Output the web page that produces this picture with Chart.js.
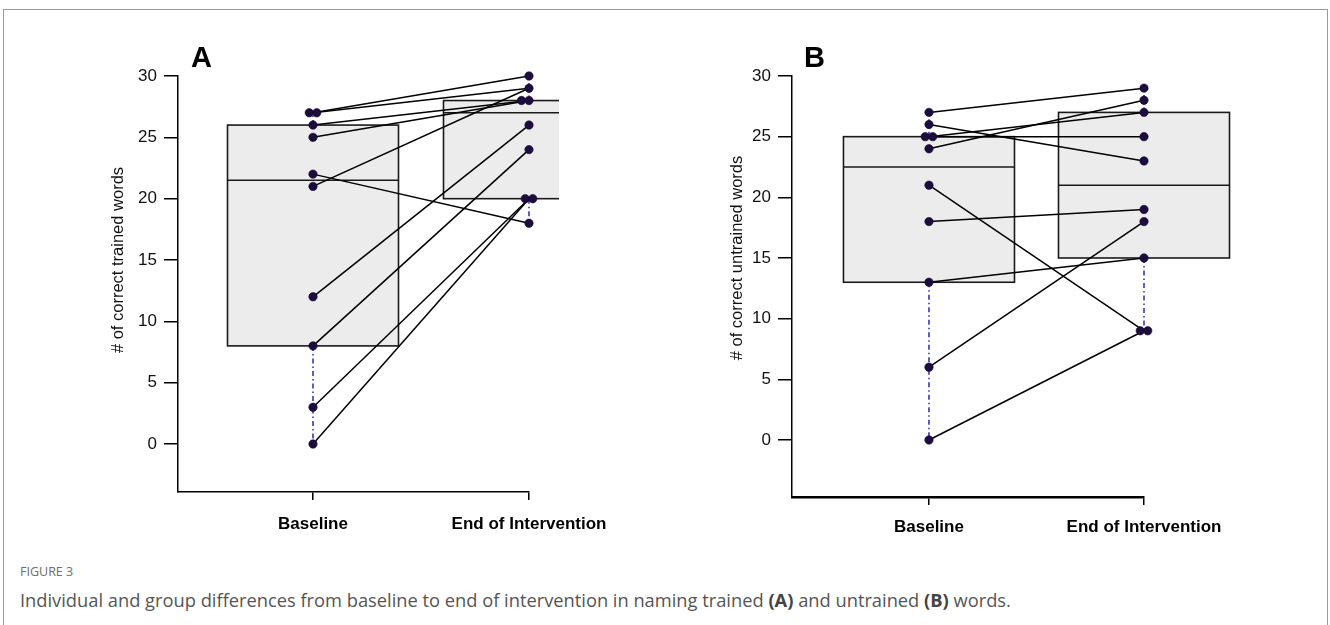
<!DOCTYPE html>
<html><head><meta charset="utf-8">
<script src="https://cdn.jsdelivr.net/npm/chart.js@4.4.1/dist/chart.umd.min.js"></script>
<style>
html,body{margin:0;padding:0;background:#fff;width:1330px;height:625px;overflow:hidden;position:relative;}
#frame{position:absolute;left:3px;top:9px;width:1325px;height:700px;border:1px solid #9a9a9a;box-sizing:border-box;}
.wrap{position:absolute;top:0;width:665px;height:560px;}
#wa{left:0}#wb{left:665px}
#cap1{position:absolute;left:20px;top:563px;font:12.5px "Open Sans",sans-serif;color:#6d6d6d;white-space:nowrap;}
#cap2{position:absolute;left:20px;top:587px;font:18.3px "Open Sans",sans-serif;color:#555;white-space:nowrap;}
#cap2 b{color:#444;}
</style></head>
<body>
<div id="frame"></div>
<div class="wrap" id="wa"><canvas id="ca"></canvas></div>
<div class="wrap" id="wb"><canvas id="cb"></canvas></div>
<div id="cap1">FIGURE 3</div>
<div id="cap2">Individual and group differences from baseline to end of intervention in naming trained <b>(A)</b> and untrained <b>(B)</b> words.</div>
<script>
// ---------- data ----------
const categories = ['Baseline', 'End of Intervention'];
const yTickValues = [0, 5, 10, 15, 20, 25, 30];

// Panel A: trained words
const baseA = [27, 27, 26, 25, 22, 21, 12, 8, 3, 0];
const endA  = [30, 29, 28, 28, 28, 26, 24, 20, 20, 18];
const linkFromA = [27, 27, 26, 25, 22, 21, 12, 8, 3, 0];
const linkToA   = [30, 29, 28, 28, 18, 29, 26, 24, 20, 20];
const boxMinA = [0, 18];
const boxQ1A  = [8, 20];
const boxMedA = [21.5, 27];
const boxQ3A  = [26, 28];
const boxMaxA = [27, 30];

// Panel B: untrained words
const baseB = [27, 26, 25, 25, 24, 21, 18, 13, 6, 0];
const endB  = [29, 28, 27, 25, 23, 19, 18, 15, 9, 9];
const linkFromB = [27, 26, 25, 25, 24, 21, 18, 13, 6, 0];
const linkToB   = [29, 23, 27, 25, 28, 9, 19, 15, 18, 9];
const boxMinB = [0, 9];
const boxQ1B  = [13, 15];
const boxMedB = [22.5, 21];
const boxQ3B  = [25, 27];
const boxMaxB = [27, 29];

// ---------- helpers ----------
function jitter(values, pos, step) {
  const counts = {}, seen = {};
  values.forEach(v => counts[v] = (counts[v] || 0) + 1);
  return values.map(v => {
    const n = counts[v]; const k = seen[v] = (seen[v] === undefined ? 0 : seen[v] + 1);
    return { x: pos + (k - (n - 1) / 2) * step, y: v };
  });
}

const boxPlugin = {
  id: 'boxes',
  beforeDatasetsDraw(chart, args, o) {
    const { ctx, scales: { x, y }, chartArea } = chart;
    ctx.save();
    if (o.clipExtra != null) {
      ctx.beginPath();
      ctx.rect(0, 0, chartArea.right + o.clipExtra, chart.height);
      ctx.clip();
    }
    const half = x.getPixelForValue(1 + o.halfWidth) - x.getPixelForValue(1);
    o.q1.forEach((q1, i) => {
      const cx = x.getPixelForValue(i + 1);
      const top = y.getPixelForValue(o.q3[i]);
      const bot = y.getPixelForValue(q1);
      ctx.fillStyle = '#ececec';
      ctx.fillRect(cx - half, top, 2 * half, bot - top);
      ctx.strokeStyle = '#1a1a1a';
      ctx.lineWidth = 1.6;
      ctx.strokeRect(cx - half, top, 2 * half, bot - top);
      const my = y.getPixelForValue(o.med[i]);
      ctx.beginPath(); ctx.moveTo(cx - half, my); ctx.lineTo(cx + half, my); ctx.stroke();
    });
    ctx.restore();
    ctx.save();
    ctx.strokeStyle = '#1c1caa';
    ctx.lineWidth = 1.4;
    ctx.setLineDash([5, 3, 1.5, 3]);
    o.q1.forEach((q1, i) => {
      const cx = x.getPixelForValue(i + 1);
      ctx.beginPath();
      ctx.moveTo(cx, y.getPixelForValue(q1)); ctx.lineTo(cx, y.getPixelForValue(o.min[i]));
      ctx.moveTo(cx, y.getPixelForValue(o.q3[i])); ctx.lineTo(cx, y.getPixelForValue(o.max[i]));
      ctx.stroke();
    });
    ctx.restore();
  },
  afterDraw(chart, args, o) {
    const { ctx, scales: { y }, chartArea } = chart;
    ctx.save();
    ctx.fillStyle = '#000';
    ctx.font = 'bold 29px "Liberation Sans", Arial, sans-serif';
    ctx.textBaseline = 'alphabetic';
    ctx.fillText(o.letter, chartArea.left + o.letterDx, 67);
    const cy = (y.getPixelForValue(0) + y.getPixelForValue(30)) / 2;
    ctx.translate(chartArea.left - o.titleDx, cy);
    ctx.rotate(-Math.PI / 2);
    ctx.font = '16.5px "Liberation Sans", Arial, sans-serif';
    ctx.fillStyle = '#111';
    ctx.textAlign = 'center';
    ctx.textBaseline = 'middle';
    ctx.fillText(o.yTitle, 0, 0);
    ctx.restore();
  }
};

function makePanel(id, cfg) {
  const datasets = [];
  cfg.from.forEach((a, i) => {
    datasets.push({
      type: 'line', data: [{ x: 1, y: a }, { x: 2, y: cfg.to[i] }],
      borderColor: '#000', borderWidth: 1.5, pointRadius: 0, showLine: true, clip: false, order: 2
    });
  });
  const step = 7.5 / cfg.pxPerUnit;
  datasets.push({
    type: 'scatter', data: jitter(cfg.base, 1, step).concat(jitter(cfg.end, 2, step)),
    backgroundColor: '#1d0d3d', borderColor: '#140830', borderWidth: 0.6, pointRadius: 4.2, clip: false, order: 1
  });
  return new Chart(document.getElementById(id), {
    type: 'scatter',
    data: { datasets },
    options: {
      responsive: true, maintainAspectRatio: false, animation: false,
      devicePixelRatio: 1,
      layout: { padding: { left: 0, top: 76, right: cfg.padRight, bottom: 0 } },
      plugins: {
        legend: { display: false }, tooltip: { enabled: false },
        boxes: {
          q1: cfg.q1, q3: cfg.q3, med: cfg.med, min: cfg.min, max: cfg.max,
          halfWidth: 85.5 / cfg.pxPerUnit, clipExtra: cfg.clipExtra,
          letter: cfg.letter, letterDx: cfg.letterDx, yTitle: cfg.yTitle, titleDx: cfg.titleDx
        }
      },
      scales: {
        x: {
          type: 'linear', min: cfg.xMin, max: 2,
          afterBuildTicks: s => { s.ticks = [{ value: 1 }, { value: 2 }]; },
          afterFit: s => { s.height = cfg.xHeight; },
          ticks: {
            callback: v => categories[Math.round(v) - 1],
            font: { family: '"Liberation Sans", Arial, sans-serif', weight: 'bold', size: 17 },
            color: '#000', padding: cfg.xPad, autoSkip: false, maxRotation: 0
          },
          grid: { drawOnChartArea: false, drawTicks: true, tickLength: 8, color: '#000', lineWidth: 1.5 },
          border: { display: true, color: '#000', width: cfg.xBorder }
        },
        y: {
          min: cfg.yMin, max: 30,
          afterBuildTicks: s => { s.ticks = yTickValues.map(v => ({ value: v })); },
          afterFit: s => { s.width = cfg.yWidth; },
          ticks: {
            font: { family: '"Liberation Sans", Arial, sans-serif', size: 17 },
            color: '#111', padding: 7
          },
          grid: { drawOnChartArea: false, drawTicks: true, tickLength: 14, color: '#000', lineWidth: 1.5 },
          border: { display: true, color: '#000', width: 1.5 }
        }
      }
    },
    plugins: [boxPlugin]
  });
}

makePanel('ca', {
  base: baseA, end: endA, from: linkFromA, to: linkToA,
  q1: boxQ1A, q3: boxQ3A, med: boxMedA, min: boxMinA, max: boxMaxA,
  xMin: 0.375, yMin: -3.91, yWidth: 178, xHeight: 68, padRight: 136, pxPerUnit: 216,
  clipExtra: 30, xBorder: 1.5, xPad: 14,
  letter: 'A', letterDx: 13, yTitle: '# of correct trained words', titleDx: 60
});
makePanel('cb', {
  base: baseB, end: endB, from: linkFromB, to: linkToB,
  q1: boxQ1B, q3: boxQ3B, med: boxMedB, min: boxMinB, max: boxMaxB,
  xMin: 0.363, yMin: -4.70, yWidth: 127, xHeight: 63, padRight: 186, pxPerUnit: 215,
  clipExtra: null, xBorder: 2.5, xPad: 12,
  letter: 'B', letterDx: 12, yTitle: '# of correct untrained words', titleDx: 55
});
</script>
</body></html>
